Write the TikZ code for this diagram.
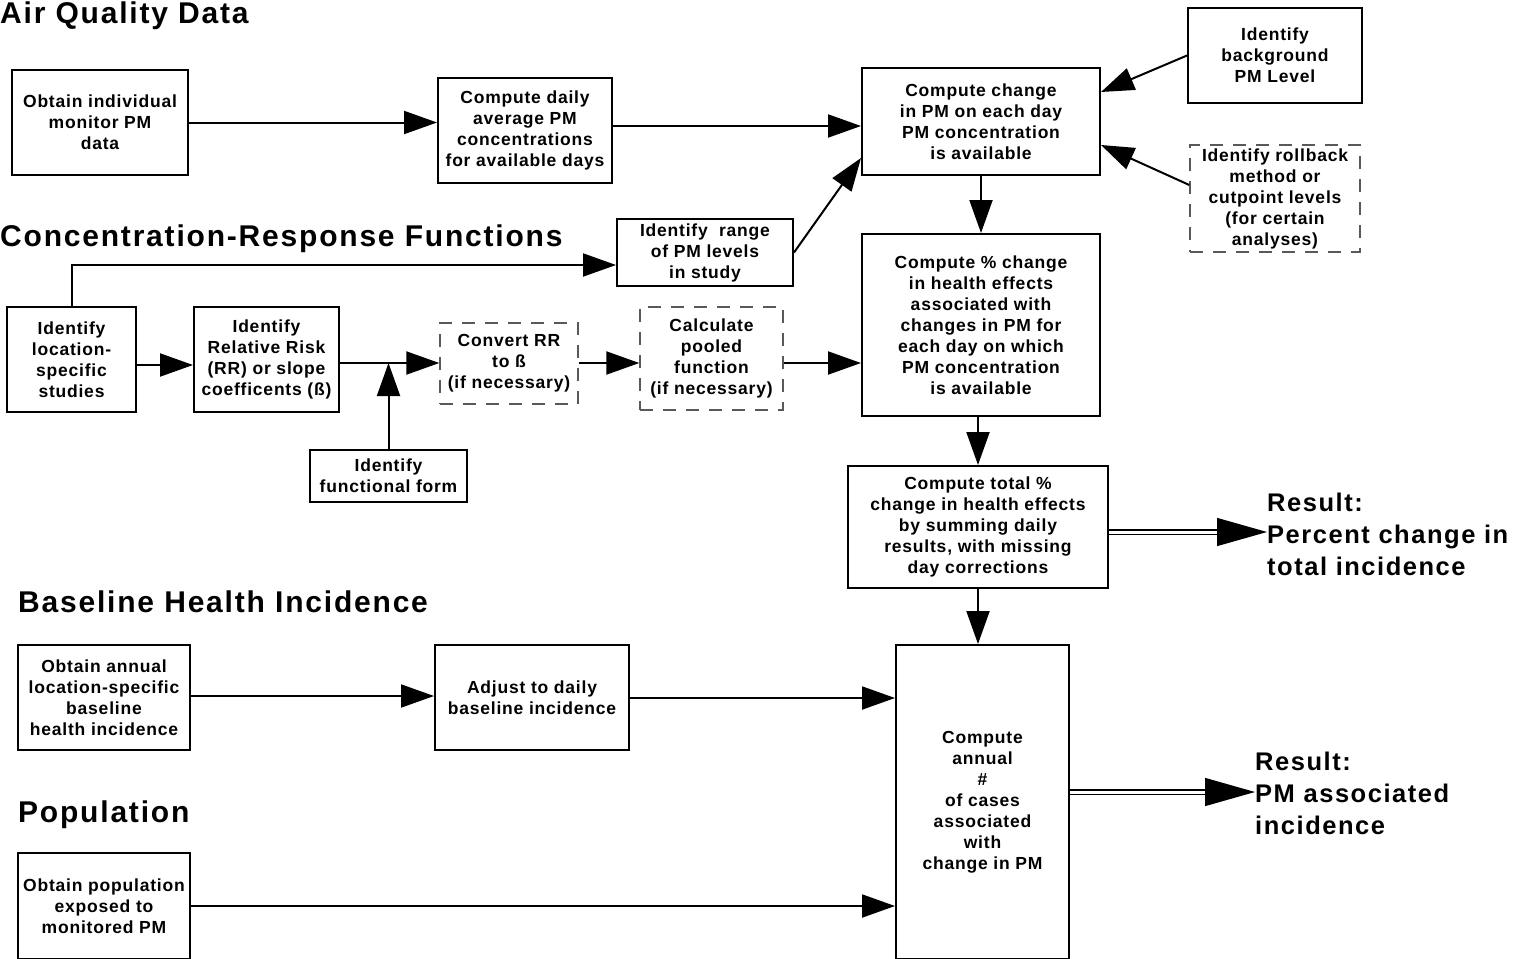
\documentclass[tikz,border=0pt]{standalone}
\usepackage{fontspec}
\setmainfont{Liberation Sans}
\newfontfamily\bxf{Liberation Sans}[LetterSpace=4.5]
\newfontfamily\hdf{Liberation Sans}[LetterSpace=6]
\usetikzlibrary{arrows.meta}
\tikzset{
  box/.style={draw, line width=2pt, align=center, inner sep=0pt,
    font=\bxf\bfseries\fontsize{17.5}{21}\selectfont},
  dbox/.style={box, draw=black!65, line width=1.4pt, dash pattern=on 13pt off 10pt},
  arr/.style={line width=2pt, -{Triangle[length=33pt,width=23pt]}},
  dbl/.style={double, double distance=3pt, line width=1.4pt, -{Triangle[length=50pt,width=28pt]}},
  head/.style={anchor=base west, inner sep=0pt, font=\hdf\bfseries\fontsize{30}{36}\selectfont},
  res/.style={anchor=west, inner sep=0pt, align=left, font=\hdf\bfseries\fontsize{25.5}{32}\selectfont}
}
\begin{document}
\begin{tikzpicture}[x=1pt,y=-1pt]
\useasboundingbox (0,0) rectangle (1522,958);
% headings
\node[head] (h1) at (0,24) {Air Quality Data};
\node[head] (h2) at (0,246) {Concentration-Response Functions};
\node[head] (h3) at (18,612) {Baseline Health Incidence};
\node[head] (h4) at (18,822) {Population};
% boxes
\node[box, minimum width=176pt, minimum height=105pt] (n1) at (100,122.5) {Obtain individual\\monitor PM\\data};
\node[box, minimum width=174pt, minimum height=105pt] (n2) at (525,130.5) {Compute daily\\average PM\\concentrations\\for available days};
\node[box, minimum width=238pt, minimum height=107pt] (n3) at (981,121.5) {Compute change\\in PM on each day\\PM concentration\\is available};
\node[box, minimum width=174pt, minimum height=95pt] (nbg) at (1275,55.5) {Identify\\background\\PM Level};
\node[dbox, minimum width=170pt, minimum height=107pt] (nrb) at (1275,198.5) {Identify rollback\\method or\\cutpoint levels\\(for certain\\analyses)};
\node[box, minimum width=176pt, minimum height=67pt] (nrange) at (705,252.5) {Identify\ \ range\\of PM levels\\in study};
\node[box, minimum width=238pt, minimum height=182pt] (n4) at (981,325) {Compute \% change\\in health effects\\associated with\\changes in PM for\\each day on which\\PM concentration\\is available};
\node[box, minimum width=129pt, minimum height=105pt] (nloc) at (71.5,359.5) {Identify\\location-\\specific\\studies};
\node[box, minimum width=145pt, minimum height=105pt] (nrr) at (266.5,359.5) {Identify\\Relative Risk\\(RR) or slope\\coefficents (ß)};
\node[box, minimum width=157pt, minimum height=52pt] (nff) at (388.5,476) {Identify\\functional form};
\node[dbox, minimum width=138pt, minimum height=81pt] (nconv) at (509,363.5) {Convert RR\\to ß\\(if necessary)};
\node[dbox, minimum width=143pt, minimum height=103pt] (ncalc) at (711.5,358.5) {Calculate\\pooled\\function\\(if necessary)};
\node[box, minimum width=260pt, minimum height=122pt] (n5) at (978,527) {Compute total \%\\change in health effects\\by summing daily\\results, with missing\\day corrections};
\node[box, minimum width=173pt, minimum height=314pt] (n6) at (982.5,802) {Compute\\annual\\\#\\of cases\\associated\\with\\change in PM};
\node[box, minimum width=172pt, minimum height=105pt] (nbl) at (104,697.5) {Obtain annual\\location-specific\\baseline\\health incidence};
\node[box, minimum width=194pt, minimum height=105pt] (nadj) at (532,697.5) {Adjust to daily\\baseline incidence};
\node[box, minimum width=172pt, minimum height=106pt] (npop) at (104,906) {Obtain population\\exposed to\\monitored PM};
% results
\node[res] (r1) at (1267,534) {Result:\\Percent change in\\total incidence};
\node[res] (r2) at (1255,793) {Result:\\PM associated\\incidence};
% connectors
\draw[arr] (n1.east) -- (n1.east -| n2.west);
\draw[arr] (n2.east |- 0,126) -- (n3.west |- 0,126);
\draw[arr] (nbg.west) -- (n3.east |- 0,92);
\draw[arr] (nrb.west |- 0,185) -- (n3.east |- 0,145);
\draw[arr] (nrange.east) -- (n3.west |- 0,158);
\draw[arr] (n3.south) -- (n4.north);
\draw[arr] (nloc.north) |- (nrange.west |- 0,265);
\draw[arr] (nloc.east |- 0,365) -- (nrr.west |- 0,365);
\draw[arr] (nrr.east |- 0,363) -- (nconv.west |- 0,363);
\coordinate (j) at (nff.north |- 0,363);
\draw[arr] (nff.north) -- (j);
\draw[arr] (nconv.east |- 0,363) -- (ncalc.west |- 0,363);
\draw[arr] (ncalc.east |- 0,363) -- (n4.west |- 0,363);
\draw[arr] (n4.south -| 978,0) -- (n5.north -| 978,0);
\draw[arr] (n5.south -| 978,0) -- (n6.north -| 978,0);
\draw[arr] (nbl.east |- 0,696) -- (nadj.west |- 0,696);
\draw[arr] (nadj.east |- 0,698) -- (n6.west |- 0,698);
\draw[arr] (npop.east) -- (npop.east -| n6.west);
\draw[dbl] (n5.east |- 0,532) -- (r1.west |- 0,532);
\draw[dbl] (n6.east |- 0,792) -- (r2.west |- 0,792);
\end{tikzpicture}
\end{document}
